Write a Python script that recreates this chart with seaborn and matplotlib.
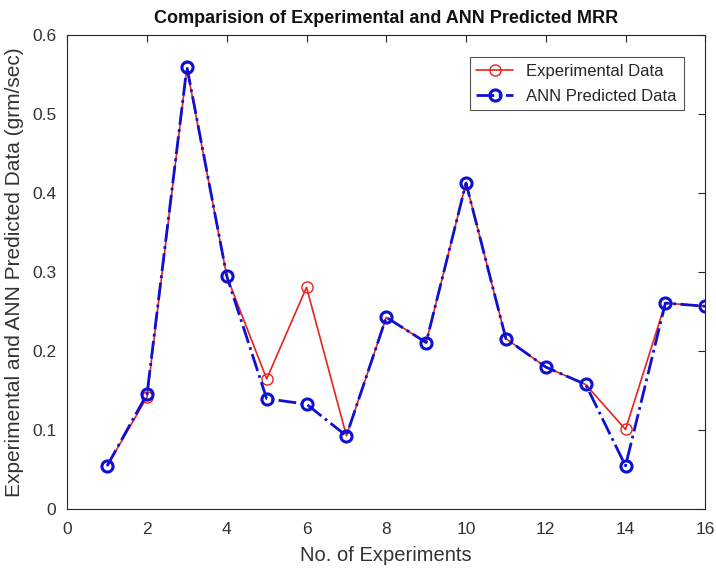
import seaborn as sns
import matplotlib.pyplot as plt
import pandas as pd

# values
experiments = list(range(1, 17))
experimental = [0.055, 0.142, 0.558, 0.295, 0.165, 0.281, 0.093, 0.243,
                0.211, 0.413, 0.216, 0.180, 0.158, 0.101, 0.261, 0.257]
ann_predicted = [0.055, 0.146, 0.560, 0.295, 0.140, 0.133, 0.093, 0.243,
                 0.211, 0.413, 0.216, 0.180, 0.158, 0.055, 0.261, 0.257]

df = pd.DataFrame({"exp_no": experiments,
                   "experimental": experimental,
                   "ann": ann_predicted})

sns.set_style("white")
plt.rcParams['font.family'] = ['Liberation Sans', 'DejaVu Sans']
plt.rcParams['xtick.direction'] = 'in'
plt.rcParams['ytick.direction'] = 'in'

fig = plt.figure(figsize=(7.16, 5.69), dpi=100)
ax = fig.add_axes([0.094, 0.105, 0.891, 0.833])

sns.lineplot(data=df, x="exp_no", y="experimental", ax=ax, color='#e8231c',
             linewidth=1.2, marker='o', markersize=8, mfc='none', mec='#e8231c',
             mew=1.0, label="Experimental Data")
sns.lineplot(data=df, x="exp_no", y="ann", ax=ax, color='#1010d0',
             linewidth=2.0, linestyle='-.', marker='o', markersize=8, mfc='none',
             mec='#1010d0', mew=2.2, label="ANN Predicted Data")

ax.set_xlim(0, 16)
ax.set_ylim(0, 0.6)
ax.set_xticks(range(0, 17, 2))
ax.set_yticks([0, 0.1, 0.2, 0.3, 0.4, 0.5, 0.6])
ax.set_yticklabels(['0', '0.1', '0.2', '0.3', '0.4', '0.5', '0.6'])
ax.tick_params(axis='both', labelsize=12.5, colors='#262626', length=5,
               top=True, right=True, labelcolor='#333333')
ax.tick_params(axis='x', pad=9)
ax.tick_params(axis='y', pad=8)
for s in ax.spines.values():
    s.set_color('#262626')
    s.set_linewidth(0.8)

ax.set_xlabel("No. of Experiments", fontsize=14.5, color='#333333', labelpad=7)
ax.set_ylabel("Experimental and ANN Predicted Data (grm/sec)", fontsize=15,
              color='#333333', labelpad=6)
ax.set_title("Comparision of Experimental and ANN Predicted MRR",
             fontsize=13, fontweight='bold', color='#111111', pad=9)

leg = ax.legend(loc='upper right', fontsize=12, frameon=True, fancybox=False,
                edgecolor='#262626', handlelength=2.2, borderaxespad=1.3,
                labelspacing=0.6)
leg.get_frame().set_linewidth(0.8)

fig.savefig("out.png", dpi=100)
